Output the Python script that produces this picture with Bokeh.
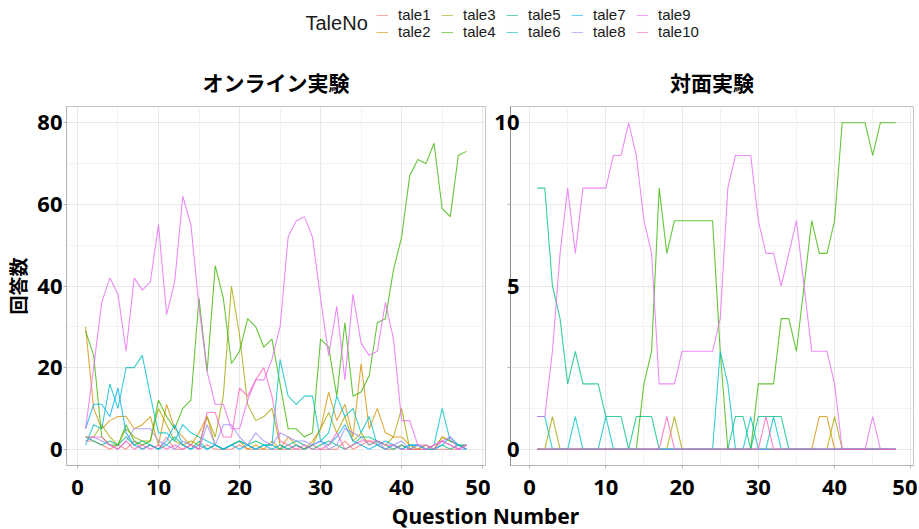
from bokeh.plotting import figure
from bokeh.models import Range1d, FixedTicker, Legend, LegendItem, Label
from bokeh.layouts import column, row
from bokeh.embed import file_html
from bokeh.resources import INLINE

# ---------------- data ----------------
question = [1, 2, 3, 4, 5, 6, 7, 8, 9, 10, 11, 12, 13, 14, 15, 16, 17, 18, 19, 20,
            21, 22, 23, 24, 25, 26, 27, 28, 29, 30, 31, 32, 33, 34, 35, 36, 37, 38, 39, 40,
            41, 42, 43, 44, 45, 46, 47, 48]
tales = ["tale1", "tale2", "tale3", "tale4", "tale5", "tale6", "tale7", "tale8", "tale9", "tale10"]
tale_colors = ["#F8766D", "#D89000", "#A3A500", "#39B600", "#00BF7D",
               "#00BFC4", "#00B0F6", "#9590FF", "#E76BF3", "#FF62BC"]

online_tale1 = [2, 2, 1, 0, 1, 0, 2, 0, 1, 0, 3, 0, 0, 1, 0, 1, 0, 0, 0, 1,
                0, 0, 0, 0, 0, 0, 0, 0, 1, 0, 0, 0, 2, 0, 1, 2, 1, 0, 0, 1,
                0, 0, 0, 0, 0, 0, 0, 1]
online_tale2 = [30, 10, 5, 7, 8, 8, 5, 6, 8, 1, 11, 5, 3, 1, 4, 8, 1, 0, 1, 2,
                0, 1, 0, 2, 0, 3, 1, 0, 2, 5, 14, 7, 11, 3, 21, 5, 10, 4, 3, 3,
                1, 0, 1, 0, 3, 2, 1, 0]
online_tale3 = [3, 3, 6, 3, 1, 5, 3, 2, 2, 10, 6, 2, 1, 2, 1, 8, 3, 13, 40, 28,
                11, 7, 8, 10, 1, 0, 1, 0, 1, 5, 9, 4, 8, 2, 4, 1, 2, 1, 3, 10,
                0, 0, 1, 0, 3, 2, 1, 1]
online_tale4 = [29, 23, 3, 1, 1, 6, 2, 1, 2, 12, 8, 5, 10, 12, 37, 19, 45, 37, 21, 24,
                32, 30, 25, 27, 16, 5, 5, 3, 4, 27, 25, 13, 31, 13, 14, 18, 31, 32, 44, 52,
                67, 71, 70, 75, 59, 57, 72, 73]
online_tale5 = [3, 2, 1, 2, 1, 3, 1, 2, 1, 0, 1, 3, 1, 0, 2, 0, 1, 0, 1, 2,
                1, 2, 1, 1, 0, 1, 2, 1, 0, 1, 2, 1, 0, 1, 3, 3, 2, 1, 0, 1,
                0, 1, 0, 0, 1, 0, 1, 0]
online_tale6 = [1, 6, 5, 16, 10, 20, 20, 23, 13, 4, 4, 2, 6, 4, 3, 2, 1, 0, 1, 2,
                1, 0, 1, 1, 22, 13, 11, 13, 13, 2, 4, 13, 8, 10, 4, 8, 1, 0, 1, 0,
                1, 1, 0, 1, 10, 2, 1, 1]
online_tale7 = [5, 11, 11, 8, 15, 4, 1, 0, 1, 0, 2, 6, 1, 0, 1, 0, 1, 0, 1, 0,
                1, 0, 1, 0, 1, 0, 1, 0, 1, 2, 1, 3, 6, 2, 1, 0, 1, 2, 1, 0,
                1, 1, 0, 0, 1, 3, 1, 0]
online_tale8 = [2, 3, 2, 1, 0, 2, 5, 5, 5, 2, 1, 0, 2, 1, 0, 6, 1, 6, 6, 3,
                1, 4, 2, 1, 4, 3, 2, 2, 1, 2, 0, 1, 5, 4, 3, 1, 2, 0, 1, 2,
                0, 1, 0, 1, 2, 1, 0, 0]
online_tale9 = [5, 20, 36, 42, 38, 24, 42, 39, 41, 55, 33, 41, 62, 55, 35, 19, 11, 11, 5, 5,
                12, 17, 17, 22, 30, 52, 56, 57, 52, 37, 23, 35, 17, 38, 26, 23, 24, 36, 27, 7,
                7, 1, 1, 0, 2, 3, 0, 1]
online_tale10 = [3, 3, 3, 1, 0, 2, 0, 1, 0, 1, 0, 1, 0, 1, 0, 9, 9, 3, 3, 15,
                 13, 17, 20, 13, 2, 1, 0, 1, 0, 0, 1, 4, 0, 1, 2, 2, 2, 1, 1, 0,
                 0, 0, 0, 1, 2, 1, 0, 1]

f2f_tale1 = [0, 0, 0, 0, 0, 0, 0, 0, 0, 0, 0, 0, 0, 0, 0, 0, 0, 0, 0, 0,
             0, 0, 0, 0, 0, 0, 0, 0, 0, 0, 0, 0, 0, 0, 0, 0, 0, 0, 0, 0,
             0, 0, 0, 0, 0, 0, 0, 0]
f2f_tale2 = [0, 0, 0, 0, 0, 0, 0, 0, 0, 0, 0, 0, 0, 0, 0, 0, 0, 0, 0, 0,
             0, 0, 0, 0, 0, 0, 0, 0, 0, 0, 0, 0, 0, 0, 0, 0, 0, 1, 1, 0,
             0, 0, 0, 0, 0, 0, 0, 0]
f2f_tale3 = [0, 0, 1, 0, 0, 0, 0, 0, 0, 0, 0, 0, 0, 0, 0, 0, 0, 0, 1, 0,
             0, 0, 0, 0, 0, 0, 0, 0, 0, 0, 0, 0, 0, 0, 0, 0, 0, 0, 0, 1,
             0, 0, 0, 0, 0, 0, 0, 0]
f2f_tale4 = [0, 0, 0, 0, 0, 0, 0, 0, 0, 0, 0, 0, 0, 0, 2, 3, 8, 6, 7, 7,
             7, 7, 7, 7, 3, 0, 0, 0, 0, 2, 2, 2, 4, 4, 3, 5, 7, 6, 6, 7,
             10, 10, 10, 10, 9, 10, 10, 10]
f2f_tale5 = [8, 8, 5, 4, 2, 3, 2, 2, 2, 1, 1, 1, 0, 1, 1, 1, 0, 0, 0, 0,
             0, 0, 0, 0, 0, 0, 1, 1, 0, 1, 1, 1, 1, 0, 0, 0, 0, 0, 0, 0,
             0, 0, 0, 0, 0, 0, 0, 0]
f2f_tale6 = [1, 1, 0, 0, 0, 1, 0, 0, 0, 1, 0, 0, 0, 0, 0, 0, 0, 0, 0, 0,
             0, 0, 0, 0, 3, 2, 0, 0, 1, 0, 0, 1, 0, 0, 0, 0, 0, 0, 0, 0,
             0, 0, 0, 0, 0, 0, 0, 0]
f2f_tale7 = [0, 0, 0, 0, 0, 0, 0, 0, 0, 0, 0, 0, 0, 0, 0, 0, 0, 0, 0, 0,
             0, 0, 0, 0, 0, 0, 0, 0, 0, 0, 0, 0, 0, 0, 0, 0, 0, 0, 0, 0,
             0, 0, 0, 0, 0, 0, 0, 0]
f2f_tale8 = [0, 0, 0, 0, 0, 0, 0, 0, 0, 0, 0, 0, 0, 0, 0, 0, 0, 0, 0, 0,
             0, 0, 0, 0, 0, 0, 0, 0, 0, 0, 0, 0, 0, 0, 0, 0, 0, 0, 0, 0,
             0, 0, 0, 0, 0, 0, 0, 0]
f2f_tale9 = [1, 1, 3, 6, 8, 6, 8, 8, 8, 8, 9, 9, 10, 9, 7, 6, 2, 2, 2, 3,
             3, 3, 3, 3, 4, 8, 9, 9, 9, 7, 6, 6, 5, 6, 7, 5, 3, 3, 3, 2,
             0, 0, 0, 0, 1, 0, 0, 0]
f2f_tale10 = [0, 0, 0, 0, 0, 0, 0, 0, 0, 0, 0, 0, 0, 0, 0, 0, 0, 1, 0, 0,
              0, 0, 0, 0, 0, 0, 0, 0, 0, 0, 1, 0, 0, 0, 0, 0, 0, 0, 0, 0,
              0, 0, 0, 0, 0, 0, 0, 0]

online = [online_tale1, online_tale2, online_tale3, online_tale4, online_tale5,
          online_tale6, online_tale7, online_tale8, online_tale9, online_tale10]
f2f = [f2f_tale1, f2f_tale2, f2f_tale3, f2f_tale4, f2f_tale5,
       f2f_tale6, f2f_tale7, f2f_tale8, f2f_tale9, f2f_tale10]

x_ticks = [0, 10, 20, 30, 40, 50]
x_minor = [5, 15, 25, 35, 45]
online_y_ticks = [0, 20, 40, 60, 80]
online_y_minor = [10, 30, 50, 70]
f2f_y_ticks = [0, 2.5, 5, 7.5, 10]
f2f_y_minor = [1.25, 3.75, 6.25, 8.75]
f2f_y_labels = {0: "0", 2.5: "", 5: "5", 7.5: "", 10: "10"}

panel_titles = ["オンライン実験", "対面実験"]
y_title = "回答数"
x_title = "Question Number"
legend_title = "TaleNo"

JP = "Noto Sans CJK JP"
NUM = "Noto Sans"
LINE_ALPHA = 0.78
LINE_W = 1.1


def style_panel(p):
    p.title.text_font = JP
    p.title.text_font_style = "bold"
    p.title.text_font_size = "21px"
    p.title.align = "center"
    p.title.text_color = "#000000"
    p.title.standoff = 19
    p.outline_line_color = "#c4c4c4"
    p.outline_line_width = 1
    p.background_fill_color = "white"
    p.border_fill_color = "white"
    for ax in (p.xaxis[0], p.yaxis[0]):
        ax.axis_line_color = "#b3b3b3"
        ax.major_tick_line_color = "#b3b3b3"
        ax.major_tick_out = 3
        ax.major_tick_in = 0
        ax.minor_tick_line_color = None
        ax.major_label_text_font = NUM
        ax.major_label_text_font_style = "bold"
        ax.major_label_text_font_size = "22px"
        ax.major_label_text_color = "#000000"
    p.xaxis[0].ticker = FixedTicker(ticks=x_ticks, minor_ticks=x_minor)
    p.xaxis[0].major_label_standoff = 10
    p.xgrid.grid_line_color = "#e8e8e8"
    p.ygrid.grid_line_color = "#e8e8e8"
    p.xgrid.minor_grid_line_color = "#f3f3f3"
    p.ygrid.minor_grid_line_color = "#f3f3f3"
    p.xgrid.grid_line_width = 1
    p.ygrid.grid_line_width = 1


# ---------------- left panel ----------------
left = figure(width=490, height=454, output_backend="svg", toolbar_location=None,
              x_range=Range1d(-1.35, 50.35), y_range=Range1d(-4, 84),
              title=panel_titles[0],
              min_border_left=66, min_border_right=5, min_border_top=60, min_border_bottom=35)
for name, col, vals in zip(tales, tale_colors, online):
    left.line(question, vals, line_color=col, line_alpha=LINE_ALPHA, line_width=LINE_W)
style_panel(left)
left.yaxis[0].ticker = FixedTicker(ticks=online_y_ticks, minor_ticks=online_y_minor)
left.yaxis[0].major_label_standoff = 0
left.yaxis[0].axis_label = y_title
left.yaxis[0].axis_label_text_font = JP
left.yaxis[0].axis_label_text_font_style = "bold"
left.yaxis[0].axis_label_text_font_size = "19px"
left.yaxis[0].axis_label_text_color = "#000000"
left.yaxis[0].axis_label_standoff = 3
left.xgrid.ticker = FixedTicker(ticks=x_ticks, minor_ticks=x_minor)
left.ygrid.ticker = FixedTicker(ticks=online_y_ticks, minor_ticks=online_y_minor)

# ---------------- right panel ----------------
right = figure(width=427, height=454, output_backend="svg", toolbar_location=None,
               x_range=Range1d(-2.5, 50.35), y_range=Range1d(-0.5, 10.5),
               title=panel_titles[1],
               min_border_left=20, min_border_right=4, min_border_top=60, min_border_bottom=35)
for name, col, vals in zip(tales, tale_colors, f2f):
    right.line(question, vals, line_color=col, line_alpha=LINE_ALPHA, line_width=LINE_W)
style_panel(right)
right.yaxis[0].ticker = FixedTicker(ticks=f2f_y_ticks, minor_ticks=f2f_y_minor)
right.yaxis[0].major_label_overrides = f2f_y_labels
right.yaxis[0].major_label_standoff = -13
right.yaxis[0].axis_line_color = "#8c8c8c"
right.xgrid.ticker = FixedTicker(ticks=x_ticks, minor_ticks=x_minor)
right.ygrid.ticker = FixedTicker(ticks=f2f_y_ticks, minor_ticks=f2f_y_minor)

# ---------------- legend strip ----------------
leg = figure(width=917, height=46, output_backend="svg", toolbar_location=None,
             x_range=Range1d(0, 1), y_range=Range1d(0, 1),
             min_border=0, outline_line_color=None)
leg.axis.visible = False
leg.grid.visible = False
items = []
for name, col in zip(tales, tale_colors):
    r = leg.line([10, 11], [10, 10], line_color=col, line_alpha=0.6, line_width=LINE_W)
    items.append(LegendItem(label=name, renderers=[r]))
legend = Legend(items=items, orientation="vertical", nrows=2,
                location=(376, 6), padding=0, margin=0, spacing=0,
                glyph_width=12, glyph_height=14, label_height=14, label_width=43,
                label_standoff=10, label_text_font="Liberation Sans",
                label_text_font_size="15px", label_text_color="#1a1a1a",
                background_fill_alpha=0, border_line_color=None)
leg.add_layout(legend, "center")
leg.add_layout(Label(x=305, y=24, x_units="screen", y_units="screen", text=legend_title,
                     text_font="Liberation Sans", text_font_size="20px",
                     text_color="#1a1a1a", text_baseline="middle"))

# ---------------- x title strip ----------------
xlab = figure(width=917, height=29, output_backend="svg", toolbar_location=None,
              x_range=Range1d(0, 1), y_range=Range1d(0, 1),
              min_border=0, outline_line_color=None)
xlab.axis.visible = False
xlab.grid.visible = False
xlab.add_layout(Label(x=485, y=14, x_units="screen", y_units="screen", text=x_title,
                      text_font=NUM, text_font_style="bold", text_font_size="21px",
                      text_color="#000000", text_align="center", text_baseline="middle"))

layout = column(leg, row(left, right), xlab)

with open("out.html", "w") as f:
    f.write(file_html(layout, INLINE))
